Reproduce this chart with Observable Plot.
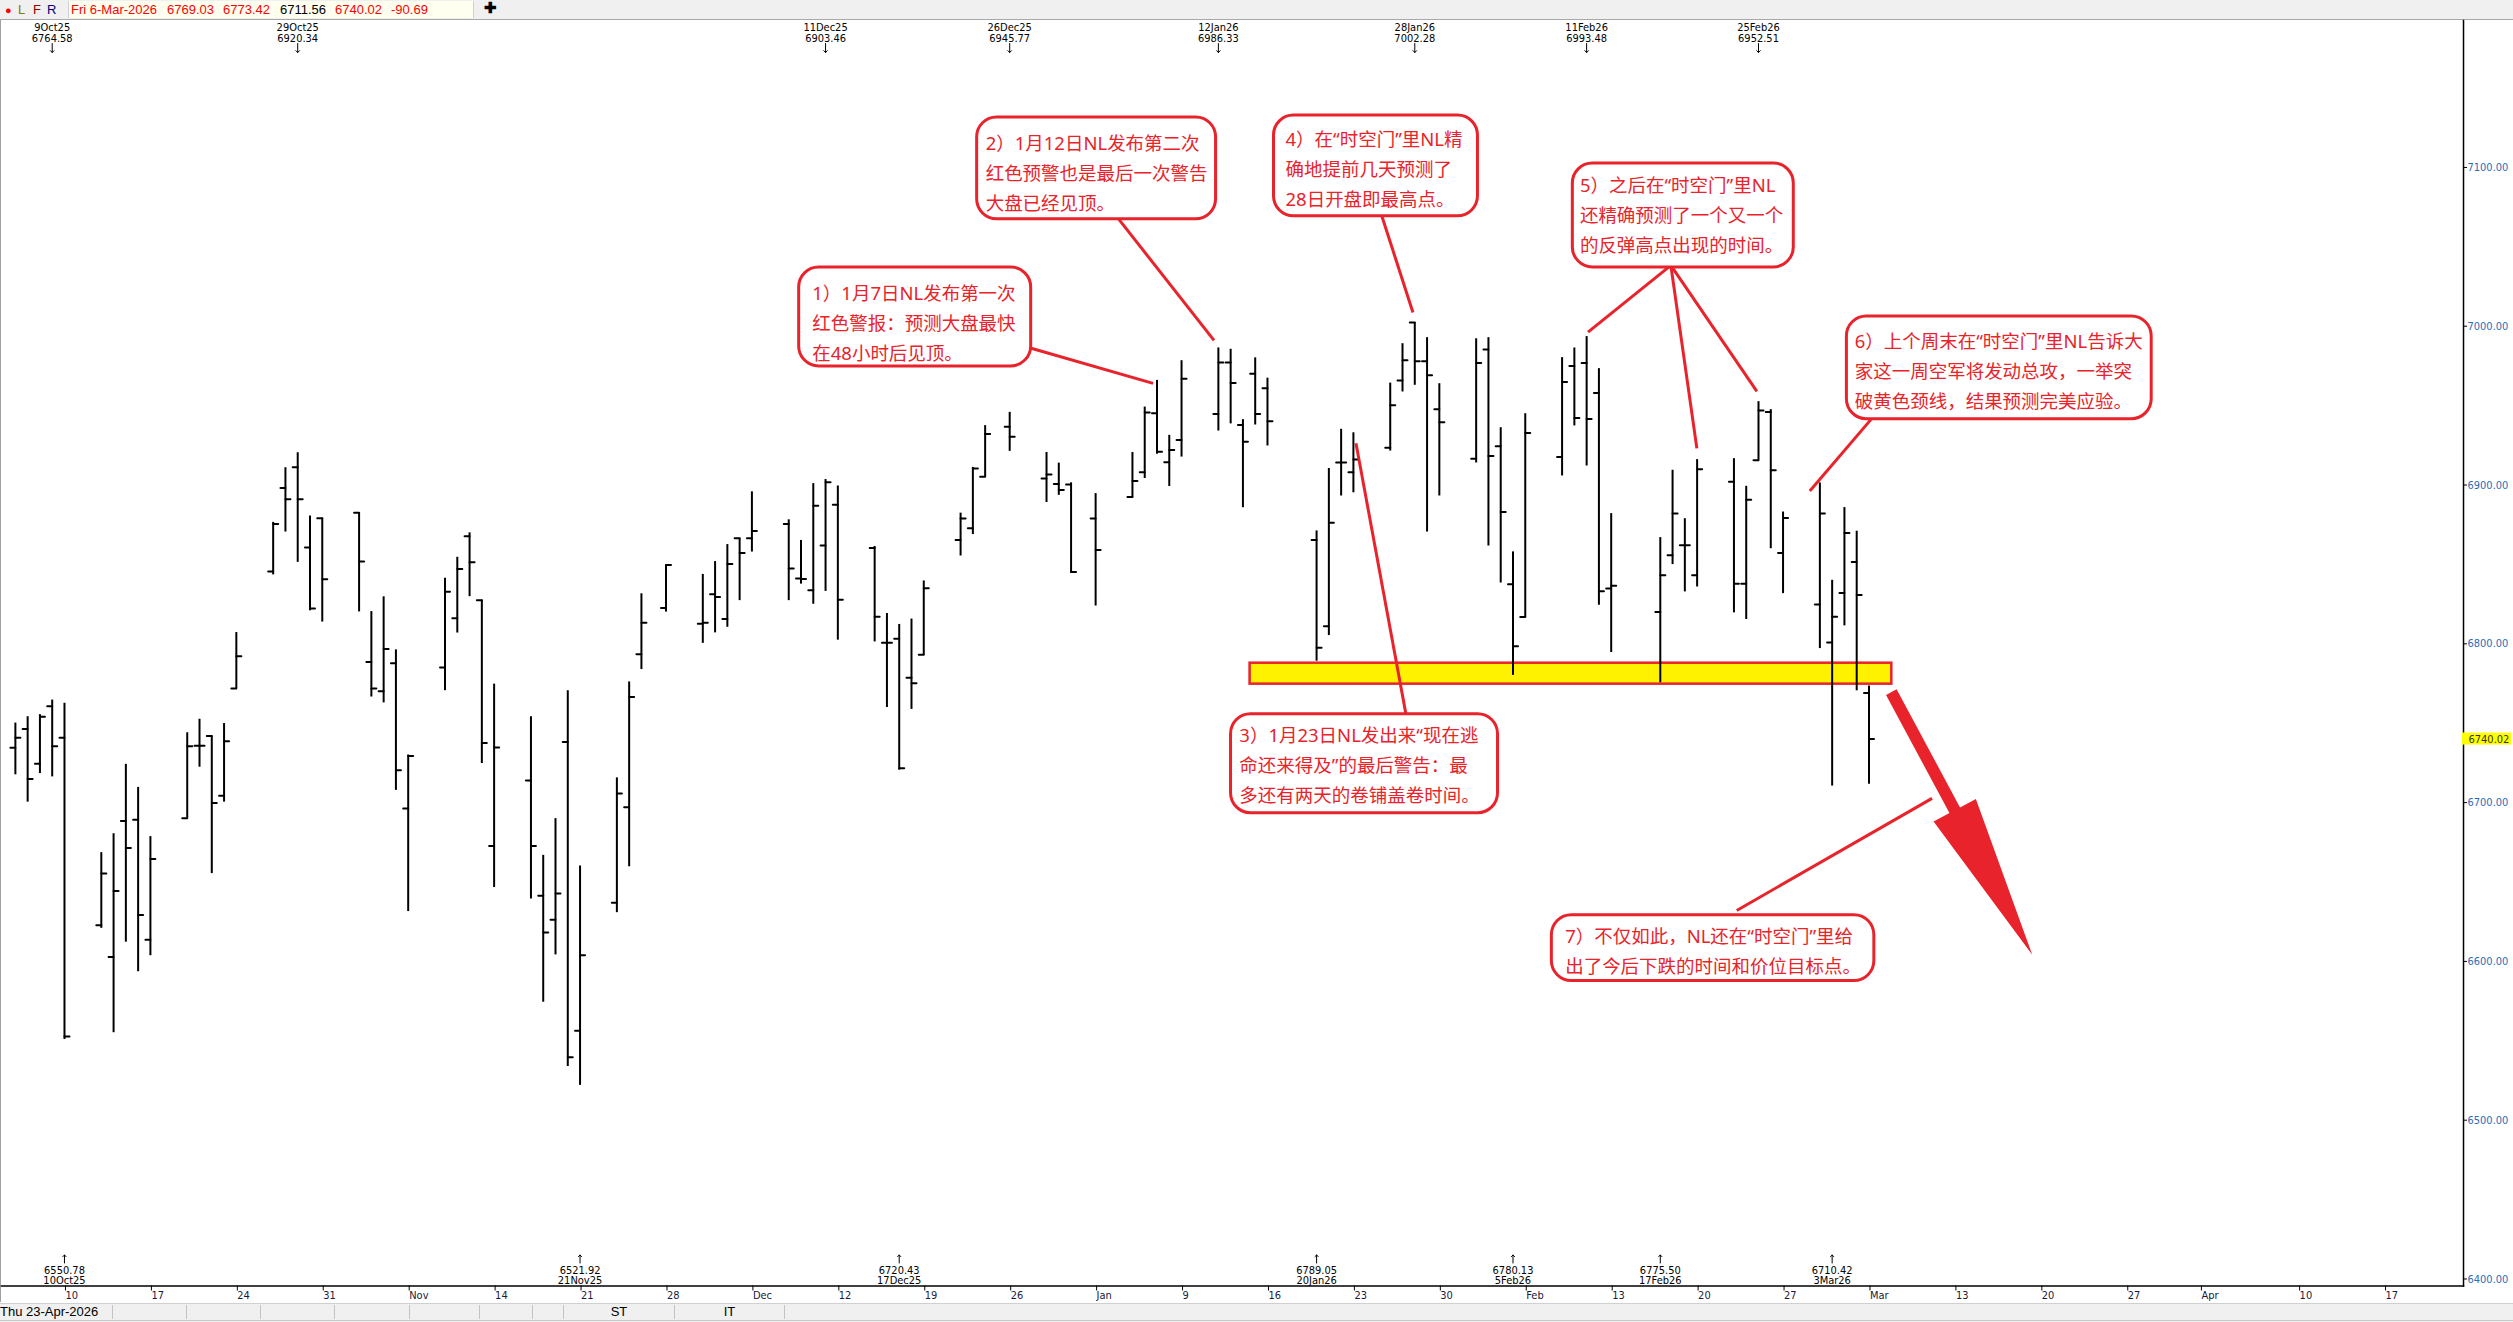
<!DOCTYPE html>
<html lang="zh">
<head>
<meta charset="utf-8">
<title>S&amp;P 500 — 时空门</title>
<script src="https://cdn.jsdelivr.net/npm/d3@7"></script>
<script src="https://cdn.jsdelivr.net/npm/@observablehq/plot@0.6"></script>
<style>
html,body{margin:0;padding:0;background:#fff;}
body{width:2513px;height:1322px;overflow:hidden;position:relative;}
.hdr{position:absolute;left:0;top:0;width:2513px;height:19px;background:#f0f0f0;border-bottom:1px solid #a8a8a8;font-family:"Liberation Sans",Arial,sans-serif;font-size:13px;}
.hdr span{position:absolute;top:2px;line-height:15px;white-space:nowrap;}
.quote{position:absolute;left:68px;top:1px;width:406px;height:17px;background:#fffff0;border-left:1px solid #d0d0d0;border-right:1px solid #d0d0d0;box-sizing:border-box;}
#chart{position:absolute;left:0;top:20px;border-left:1px solid #a0a0a0;box-sizing:border-box;}
.status{position:absolute;left:0;top:1303px;width:2513px;height:19px;background:#f0f0f0;border-top:1px solid #d0d0d0;font-family:"Liberation Sans",Arial,sans-serif;font-size:13px;}
.cell{position:absolute;top:1px;height:14px;border-right:1px solid #c4c4c4;line-height:14px;text-align:center;white-space:nowrap;}
.status .base{position:absolute;left:0;top:16px;width:2513px;height:2px;border-top:1px solid #c8c8c8;}
</style>
</head>
<body>
<div class="hdr">
  <span style="left:5px;color:#ff0000;font-size:11px;top:3px">●</span>
  <span style="left:18px;color:#808000">L</span>
  <span style="left:33px;color:#8b0000">F</span>
  <span style="left:47px;color:#000080">R</span>
  <div class="quote"></div>
  <span style="left:71px;color:#ff0000">Fri 6-Mar-2026</span>
  <span style="left:167px;color:#ff0000">6769.03</span>
  <span style="left:223px;color:#ff0000">6773.42</span>
  <span style="left:280px;color:#000">6711.56</span>
  <span style="left:335px;color:#ff0000">6740.02</span>
  <span style="left:391px;color:#ff0000">-90.69</span>
  <span style="left:484px;color:#000;font-weight:bold;font-size:15px;top:0px">✚</span>
</div>
<div id="chart"></div>
<div class="status">
  <div class="cell" style="left:0;width:112px;text-align:left">Thu 23-Apr-2026</div>
  <div class="cell" style="left:113px;width:73px"></div>
  <div class="cell" style="left:187px;width:73px"></div>
  <div class="cell" style="left:261px;width:73px"></div>
  <div class="cell" style="left:335px;width:74px"></div>
  <div class="cell" style="left:410px;width:69px"></div>
  <div class="cell" style="left:480px;width:52px"></div>
  <div class="cell" style="left:533px;width:30px"></div>
  <div class="cell" style="left:564px;width:110px">ST</div>
  <div class="cell" style="left:675px;width:109px">IT</div>
  <div class="base"></div>
</div>
<script>
// ---------- data: daily OHLC (S&P 500) ----------
const dates = [
"2025-10-06","2025-10-07","2025-10-08","2025-10-09","2025-10-10",
"2025-10-13","2025-10-14","2025-10-15","2025-10-16","2025-10-17",
"2025-10-20","2025-10-21","2025-10-22","2025-10-23","2025-10-24",
"2025-10-27","2025-10-28","2025-10-29","2025-10-30","2025-10-31",
"2025-11-03","2025-11-04","2025-11-05","2025-11-06","2025-11-07",
"2025-11-10","2025-11-11","2025-11-12","2025-11-13","2025-11-14",
"2025-11-17","2025-11-18","2025-11-19","2025-11-20","2025-11-21",
"2025-11-24","2025-11-25","2025-11-26","2025-11-28",
"2025-12-01","2025-12-02","2025-12-03","2025-12-04","2025-12-05",
"2025-12-08","2025-12-09","2025-12-10","2025-12-11","2025-12-12",
"2025-12-15","2025-12-16","2025-12-17","2025-12-18","2025-12-19",
"2025-12-22","2025-12-23","2025-12-24","2025-12-26",
"2025-12-29","2025-12-30","2025-12-31","2026-01-02",
"2026-01-05","2026-01-06","2026-01-07","2026-01-08","2026-01-09",
"2026-01-12","2026-01-13","2026-01-14","2026-01-15","2026-01-16",
"2026-01-20","2026-01-21","2026-01-22","2026-01-23",
"2026-01-26","2026-01-27","2026-01-28","2026-01-29","2026-01-30",
"2026-02-02","2026-02-03","2026-02-04","2026-02-05","2026-02-06",
"2026-02-09","2026-02-10","2026-02-11","2026-02-12","2026-02-13",
"2026-02-17","2026-02-18","2026-02-19","2026-02-20",
"2026-02-23","2026-02-24","2026-02-25","2026-02-26","2026-02-27",
"2026-03-02","2026-03-03","2026-03-04","2026-03-05","2026-03-06"];
const opens = [
6734.5,6746.4,6724.4,6760.7,6740.8, 6622.7,6602.8,6688.4,6689.2,6613.7,
6690.2,6735.8,6741.9,6704.3,6771.8, 6845.5,6898.2,6911.2,6860.6,6879.1,
6882.6,6788.5,6770.2,6787.7,6696.3, 6785.1,6816.1,6867.8,6827.5,6672.6,
6713.9,6641.3,6626.3,6738.2,6556.4, 6637.0,6697.1,6793.4,6822.6,
6812.7,6831.2,6815.6,6866.5,6866.5, 6875.5,6841.1,6833.8,6861.9,6887.6,
6860.4,6800.6,6803.2,6778.6,6793.1, 6865.4,6872.8,6905.2,6936.7,
6904.1,6900.7,6900.3,6878.9, 6892.4,6908.1,6945.2,6914.4,6928.4,
6944.8,6977.2,6937.8,6970.0,6961.0, 6865.4,6811.0,6914.2,6908.1,
6923.5,6965.9,7002.28,6977.9,6947.7, 6916.6,6985.4,6924.4,6837.5,6816.9,
6917.7,6975.0,6976.8,6958.0,6834.8, 6820.1,6855.8,6862.1,6843.2,
6902.0,6837.9,6915.6,6946.0,6857.2, 6824.7,6800.8,6832.0,6851.6,6769.03];
const highs = [
6750.1,6754.1,6755.4,6764.58,6762.6, 6668.5,6680.4,6724.1,6709.6,6678.6,
6744.0,6752.5,6741.9,6749.8,6807.1, 6876.5,6910.9,6920.34,6880.5,6879.1,
6882.6,6820.3,6829.6,6796.2,6730.0, 6841.3,6854.5,6869.9,6827.5,6774.6,
6754.1,6666.8,6689.9,6770.5,6660.1, 6715.6,6776.0,6831.5,6849.7,
6843.7,6851.8,6862.5,6866.5,6895.7, 6878.1,6865.1,6900.9,6903.46,6899.4,
6861.3,6819.1,6812.2,6815.6,6839.6, 6882.3,6911.1,6937.4,6945.77,
6920.5,6913.8,6901.4,6894.6, 6920.5,6949.1,6965.9,6931.3,6978.3,
6986.33,6985.5,6941.2,6980.1,6967.3, 6871.1,6910.4,6935.1,6932.9,
6964.2,6989.0,7002.28,6992.8,6963.8, 6992.1,6992.8,6936.1,6857.9,6944.9,
6980.2,6986.3,6993.48,6973.3,6882.0, 6866.9,6909.3,6878.8,6916.0,
6916.6,6899.2,6952.51,6947.5,6883.0, 6901.3,6840.0,6885.8,6870.9,6773.42];
const lows = [
6717.5,6700.3,6718.3,6716.2,6550.78, 6620.8,6555.1,6612.1,6593.5,6603.6,
6690.2,6722.3,6655.3,6700.3,6771.8, 6843.4,6870.4,6851.3,6820.8,6813.7,
6820.1,6766.5,6762.8,6707.7,6631.4, 6770.5,6806.8,6829.7,6724.6,6646.5,
6639.3,6574.3,6604.1,6533.8,6521.92, 6630.7,6659.6,6783.8,6820.0,
6800.3,6806.9,6810.4,6827.2,6857.8, 6827.2,6837.6,6824.9,6833.0,6802.3,
6801.2,6759.9,6720.43,6758.7,6792.8, 6855.3,6868.8,6904.8,6921.2,
6889.0,6893.5,6844.5,6823.8, 6892.0,6904.1,6919.4,6899.1,6917.6,
6934.0,6938.5,6885.7,6937.8,6924.6, 6789.05,6805.2,6893.1,6895.1,
6921.4,6958.6,6962.8,6870.4,6893.1, 6913.9,6861.6,6838.3,6780.13,6816.5,
6905.7,6937.2,6912.0,6824.3,6794.5, 6775.50,6849.9,6832.7,6835.8,
6819.5,6815.3,6915.6,6859.9,6831.6, 6797.0,6710.42,6811.3,6770.4,6711.56];
const closes = [
6740.8,6714.9,6754.1,6735.5,6552.7, 6655.3,6644.4,6671.4,6629.3,6664.5,
6735.5,6735.8,6699.8,6738.7,6792.2, 6875.4,6891.1,6891.1,6822.2,6840.7,
6851.9,6771.8,6796.7,6720.4,6729.4, 6832.8,6847.1,6851.4,6737.6,6734.7,
6672.6,6618.2,6642.8,6539.6,6603.8, 6705.8,6766.5,6813.3,6849.7,
6813.3,6829.5,6850.3,6857.2,6871.1, 6847.4,6840.8,6887.0,6901.8,6827.8,
6817.1,6800.6,6721.7,6775.2,6835.0, 6878.9,6910.4,6932.2,6930.4,
6906.6,6896.9,6845.2,6859.1, 6902.5,6945.7,6921.0,6922.1,6967.0,
6977.2,6964.3,6927.3,6944.8,6940.1, 6797.5,6876.2,6914.2,6916.0,
6950.2,6978.5,6977.9,6969.1,6939.5, 6976.8,6918.3,6883.0,6798.5,6932.8,
6964.9,6942.2,6941.6,6833.1,6836.5, 6843.2,6882.0,6862.1,6909.9,
6837.9,6890.8,6947.0,6909.3,6879.3, 6882.0,6817.0,6869.8,6830.71,6740.02];

// swing-high / swing-low markers
const peakDates   = ["2025-10-09","2025-10-29","2025-12-11","2025-12-26","2026-01-12","2026-01-28","2026-02-11","2026-02-25"];
const peakValues  = [6764.58,6920.34,6903.46,6945.77,6986.33,7002.28,6993.48,6952.51];
const troughDates = ["2025-10-10","2025-11-21","2025-12-17","2026-01-20","2026-02-05","2026-02-17","2026-03-03"];
const troughValues= [6550.78,6521.92,6720.43,6789.05,6780.13,6775.50,6710.42];

// axis ticks
const tickDates  = ["2025-10-10","2025-10-17","2025-10-24","2025-10-31","2025-11-07","2025-11-14","2025-11-21","2025-11-28",
  "2025-12-05","2025-12-12","2025-12-19","2025-12-26","2026-01-02","2026-01-09","2026-01-16","2026-01-23","2026-01-30",
  "2026-02-06","2026-02-13","2026-02-20","2026-02-27","2026-03-06","2026-03-13","2026-03-20","2026-03-27",
  "2026-04-02","2026-04-10","2026-04-17"];
const tickLabels = ["10","17","24","31","Nov","14","21","28","Dec","12","19","26","Jan","9","16","23","30",
  "Feb","13","20","27","Mar","13","20","27","Apr","10","17"];
const priceTicks = [6400,6500,6600,6700,6800,6900,7000,7100];
const lastClose = 6740.02;

// yellow neckline zone
const neckDates  = ["2026-01-14T14:00Z","2026-03-07T20:40Z"];
const neckPrices = [6774.6,6787.8];

// annotation callouts (anchored in date / price space)
const notes = [
 {x1:"2025-12-08T20:24Z",x2:"2025-12-27T18:00Z",y1:6974.7,y2:7037.0,tx:"2025-12-09T22:00Z",ty:7003.7,
  text:"1）1月7日NL发布第一次\n红色警报：预测大盘最快\n在48小时后见顶。"},
 {x1:"2025-12-23T08:24Z",x2:"2026-01-11T19:30Z",y1:7067.3,y2:7131.5,tx:"2025-12-24T01:00Z",ty:7098.1,
  text:"2）1月12日NL发布第二次\n红色预警也是最后一次警告\n大盘已经见顶。"},
 {x1:"2026-01-13T00:45Z",x2:"2026-02-03T18:45Z",y1:6693.3,y2:6755.7,tx:"2026-01-13T17:00Z",ty:6725.5,
  text:"3）1月23日NL发出来“现在逃\n命还来得及”的最后警告：最\n多还有两天的卷铺盖卷时间。"},
 {x1:"2026-01-16T12:45Z",x2:"2026-02-02T03:30Z",y1:7069.2,y2:7132.7,tx:"2026-01-17T11:15Z",ty:7100.6,
  text:"4）在“时空门”里NL精\n确地提前几天预测了\n28日开盘即最高点。"},
 {x1:"2026-02-09T21:00Z",x2:"2026-02-27T21:00Z",y1:7037.05,y2:7102.5,tx:"2026-02-10T10:50Z",ty:7071.7,
  text:"5）之后在“时空门”里NL\n还精确预测了一个又一个\n的反弹高点出现的时间。"},
 {x1:"2026-03-04T04:50Z",x2:"2026-03-29T00:45Z",y1:6941.4,y2:7006.2,tx:"2026-03-04T20:10Z",ty:6973.5,
  text:"6）上个周末在“时空门”里NL告诉大\n家这一周空军将发动总攻，一举突\n破黄色颈线，结果预测完美应验。"},
 {x1:"2026-02-08T04:00Z",x2:"2026-03-06T10:30Z",y1:6587.6,y2:6629.1,tx:"2026-02-09T06:00Z",ty:6608.4,
  text:"7）不仅如此，NL还在“时空门”里给\n出了今后下跌的时间和价位目标点。"}
];
const pointers = [
 {x1:"2025-12-27T18:00Z",y1:6986.1,x2:"2026-01-06T16:20Z",y2:6964.0},
 {x1:"2026-01-03T20:00Z",y1:7067.9,x2:"2026-01-11T15:30Z",y2:6991.1},
 {x1:"2026-01-25T06:00Z",y1:7071.0,x2:"2026-01-27T20:25Z",y2:7008.7},
 {x1:"2026-02-17T20:40Z",y1:7038.3,x2:"2026-02-11T02:40Z",y2:6996.3},
 {x1:"2026-02-17T20:40Z",y1:7038.3,x2:"2026-02-19T23:30Z",y2:6923.1},
 {x1:"2026-02-17T20:40Z",y1:7038.3,x2:"2026-02-24T20:50Z",y2:6959.0},
 {x1:"2026-03-06T03:40Z",y1:6941.2,x2:"2026-03-01T04:20Z",y2:6896.2},
 {x1:"2026-01-23T05:00Z",y1:6926.3,x2:"2026-01-27T06:45Z",y2:6755.7},
 {x1:"2026-02-23T05:30Z",y1:6632.1,x2:"2026-03-11T03:20Z",y2:6702.7}
];
const forecastArrow = [{x1:"2026-03-07T20:40Z",y1:6769.3,x2:"2026-03-19T08:10Z",y2:6603.9}];

// ---------- build ----------
const parseDay = d3.utcParse("%Y-%m-%d");
const iso = s => new Date(s);
const bars = dates.map((d,i)=>({date:parseDay(d),open:opens[i],high:highs[i],low:lows[i],close:closes[i]}));
const peaks = peakDates.map((d,i)=>({date:parseDay(d),value:peakValues[i]}));
const troughs = troughDates.map((d,i)=>({date:parseDay(d),value:troughValues[i]}));
const ticks = tickDates.map(parseDay);
const tickMap = new Map(ticks.map((t,i)=>[+t,tickLabels[i]]));
const fmtDay = d3.utcFormat("%-d%b%y");
const noteRows = notes.map(n=>({...n,x1:iso(n.x1),x2:iso(n.x2),tx:iso(n.tx)}));
const ptrRows = pointers.map(p=>({...p,x1:iso(p.x1),x2:iso(p.x2)}));
const arrowRows = forecastArrow.map(p=>({...p,x1:iso(p.x1),x2:iso(p.x2)}));
const neck = [{x1:iso(neckDates[0]),x2:iso(neckDates[1]),y1:neckPrices[0],y2:neckPrices[1]}];

const RED = "#e8232b";
const SMALL = "'Liberation Sans Narrow','DejaVu Sans Condensed','Liberation Sans',sans-serif";
const CJK = "'Noto Sans','Noto Sans CJK SC',sans-serif";
const tickShape = {draw(ctx, l){ ctx.moveTo(0,0); ctx.lineTo(0,-l); }};

const chart = Plot.plot({
  width: 2513, height: 1283,
  marginLeft: 0, marginRight: 50, marginTop: 0, marginBottom: 17,
  x: {type:"utc", domain:[parseDay("2025-10-10"), parseDay("2026-04-17")], range:[63, 2384]},
  y: {domain:[6400, 7100], range:[1259, 147]},
  style: {fontFamily: SMALL, fontSize:"11px", background:"#fff", overflow:"visible", color:"#000"},
  marks: [
    // neckline zone
    Plot.rect(neck, {x1:"x1", x2:"x2", y1:"y1", y2:"y2", fill:"#fff200", stroke:RED, strokeWidth:2.5}),
    // OHLC bars
    Plot.ruleX(bars, {x:"date", y1:"low", y2:"high", stroke:"#000", strokeWidth:2}),
    Plot.vector(bars, {x:"date", y:"open", length:5, rotate:-90, anchor:"start", shape:tickShape, stroke:"#000", strokeWidth:2}),
    Plot.vector(bars, {x:"date", y:"close", length:5, rotate:90, anchor:"start", shape:tickShape, stroke:"#000", strokeWidth:2}),
    // swing markers
    Plot.text(peaks, {x:"date", frameAnchor:"top", dy:3, lineAnchor:"top", lineHeight:1.0,
      text: d => fmtDay(d.date)+"\n"+d.value.toFixed(2), fontSize:11, fill:"#000"}),
    Plot.vector(peaks, {x:"date", frameAnchor:"top", dy:23, length:9, rotate:180, anchor:"start", stroke:"#000", strokeWidth:1}),
    Plot.text(troughs, {x:"date", frameAnchor:"bottom", dy:-2, lineAnchor:"bottom", lineHeight:0.95,
      text: d => d.value.toFixed(2)+"\n"+fmtDay(d.date), fontSize:11, fill:"#000"}),
    Plot.vector(troughs, {x:"date", frameAnchor:"bottom", dy:-23, length:8, rotate:0, anchor:"start", stroke:"#000", strokeWidth:1}),
    // pointer lines
    Plot.link(ptrRows, {x1:"x1", y1:"y1", x2:"x2", y2:"y2", stroke:RED, strokeWidth:3}),
    // forecast arrow (filled)
    Plot.link(arrowRows, {x1:"x1", y1:"y1", x2:"x2", y2:"y2", fill:RED, render(index, scales, values) {
      const g = d3.create("svg:g");
      for (const i of index) {
        const sx = values.x1[i], sy = values.y1[i], tx = values.x2[i], ty = values.y2[i];
        const dx = tx - sx, dy = ty - sy, L = Math.hypot(dx, dy);
        const ux = dx / L, uy = dy / L, nx = -uy, ny = ux;
        const head = 0.55 * L, hw = 24, sw = 6;
        const bx = tx - ux * head, by = ty - uy * head;
        const pts = [
          [sx + nx*sw, sy + ny*sw], [bx + nx*sw, by + ny*sw], [bx + nx*hw, by + ny*hw],
          [tx, ty], [bx - nx*hw, by - ny*hw], [bx - nx*sw, by - ny*sw], [sx - nx*sw, sy - ny*sw]];
        g.append("path").attr("d", "M" + pts.map(p => p.join(",")).join("L") + "Z").attr("fill", RED);
      }
      return g.node();
    }}),
    // callout boxes
    Plot.rect(noteRows, {x1:"x1", x2:"x2", y1:"y1", y2:"y2", fill:"#fff", stroke:RED, strokeWidth:3, rx:20}),
    Plot.text(noteRows, {x:"tx", y:"ty", text:"text", textAnchor:"start", lineAnchor:"middle", lineHeight:1.62,
      fontFamily:CJK, fontSize:18.5, fill:RED}),
    // axes
    Plot.frame({anchor:"right", stroke:"#000", strokeWidth:1.5}),
    Plot.frame({anchor:"bottom", stroke:"#000", strokeWidth:1.5}),
    Plot.axisY({anchor:"right", ticks:priceTicks, tickFormat: d => d.toFixed(2), tickSize:3, tickPadding:1,
      stroke:"#000", fill:"#2b6cb5", fontSize:11}),
    Plot.axisX({anchor:"bottom", ticks:ticks, tickFormat: d => tickMap.get(+d), tickSize:5, tickPadding:0,
      textAnchor:"start", dx:1, stroke:"#000", fill:"#1a1a3a", fontSize:11}),
    // last price tag
    Plot.text([lastClose], {y: d => d, frameAnchor:"right", dx:5, textAnchor:"start", text: d => d.toFixed(2),
      fill:"#333", fontSize:11, render(index, scales, values, dims, context, next) {
        const node = next(index, scales, values, dims, context);
        const g = d3.create("svg:g");
        const y = values.y[0];
        g.append("rect").attr("x", dims.width - dims.marginRight - 1).attr("y", y - 6)
          .attr("width", 49).attr("height", 12).attr("fill", "#ffff00");
        g.node().appendChild(node);
        return g.node();
      }})
  ]
});
document.getElementById("chart").appendChild(chart);
</script>
</body>
</html>
